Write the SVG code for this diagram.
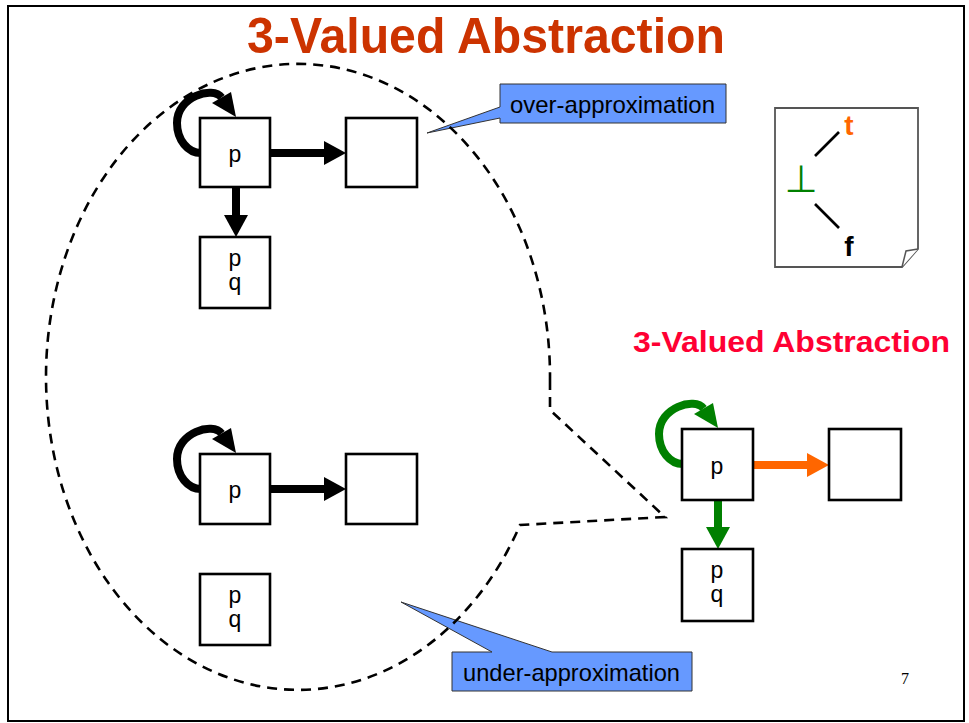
<svg xmlns="http://www.w3.org/2000/svg" xmlns:xlink="http://www.w3.org/1999/xlink" width="969" height="723" viewBox="0 0 969 723">
<style>
.box{fill:#fff;stroke:#000;stroke-width:2.6}
.lbl{font-family:"Liberation Sans",Arial,sans-serif;font-size:23px;text-anchor:middle;fill:#000}
.call{fill:#6699ff;stroke:#333;stroke-width:1}
.ctext{font-family:"Liberation Sans",Arial,sans-serif;font-size:24px;fill:#000}
.dash{fill:none;stroke:#000;stroke-width:2.6;stroke-dasharray:10 7}
.lat{stroke:#000;stroke-width:2.6}
</style>
<defs>
<g id="loop">
<path d="M1 35 C-12 35,-23 22,-23 5 C-23 -22,13 -32,21.5 -20.5" fill="none" stroke="currentColor" stroke-width="8"/>
<polygon points="31,-26 36,-1 12,-15" fill="currentColor"/>
</g>
<marker id="ahK" markerUnits="userSpaceOnUse" markerWidth="22" markerHeight="24" refX="0" refY="12" orient="auto" overflow="visible">
<path d="M0 0 L22 12 L0 24 Z" fill="#000"/>
</marker>
<marker id="ahG" markerUnits="userSpaceOnUse" markerWidth="22" markerHeight="24" refX="0" refY="12" orient="auto" overflow="visible">
<path d="M0 0 L22 12 L0 24 Z" fill="#008000"/>
</marker>
<marker id="ahO" markerUnits="userSpaceOnUse" markerWidth="22" markerHeight="24" refX="0" refY="12" orient="auto" overflow="visible">
<path d="M0 0 L22 12 L0 24 Z" fill="#ff6600"/>
</marker>
</defs>
<rect x="8" y="6" width="956" height="715" fill="#fff" stroke="#000" stroke-width="2"/>
<text x="486" y="53" font-family="'Liberation Sans',Arial,sans-serif" font-weight="bold" font-size="50" fill="#cc3300" text-anchor="middle" textLength="478" lengthAdjust="spacingAndGlyphs">3-Valued Abstraction</text>
<text x="633" y="352" font-family="'Liberation Sans',Arial,sans-serif" font-weight="bold" font-size="30" fill="#ff0033" textLength="317" lengthAdjust="spacingAndGlyphs">3-Valued Abstraction</text>
<g id="callout-over">
<path class="call" d="M500 84 H726 V123 H500 V118 L427 133 L500 107 Z"/>
<text class="ctext" x="510" y="113" textLength="205" lengthAdjust="spacingAndGlyphs">over-approximation</text>
</g>
<g id="callout-under">
<path class="call" d="M452 652 H492 L401 602 L552 652 H692 V691 H452 Z"/>
<text class="ctext" x="463" y="681" textLength="217" lengthAdjust="spacingAndGlyphs">under-approximation</text>
</g>
<path id="summary-region" class="dash" d="M550 380 L550 410 L665 517 L520 525 A252 313 0 1 1 550 380"/>
<g id="lattice">
<path d="M775 108 H918 V249 L902 267 H775 Z" fill="#fff" stroke="#555" stroke-width="1.8"/>
<path d="M918 249 L906 251 L902 267" fill="#fff" stroke="#555" stroke-width="1.5"/>
<text x="849" y="135" font-family="'Liberation Sans',Arial,sans-serif" font-weight="bold" font-size="28" fill="#ff6600" text-anchor="middle">t</text>
<text x="849" y="256" font-family="'Liberation Sans',Arial,sans-serif" font-weight="bold" font-size="28" fill="#000" text-anchor="middle">f</text>
<text x="801" y="192" font-family="'DejaVu Sans',sans-serif" font-size="38" fill="#008000" text-anchor="middle">⊥</text>
<line class="lat" x1="815" y1="156" x2="839" y2="132"/>
<line class="lat" x1="815" y1="204" x2="839" y2="228"/>
</g>
<g id="connectors">
<use xlink:href="#loop" transform="translate(200,118)" style="color:#000"/>
<use xlink:href="#loop" transform="translate(200,454)" style="color:#000"/>
<use xlink:href="#loop" transform="translate(682,429)" style="color:#008000"/>
<line x1="270" y1="153" x2="324" y2="153" stroke="#000" stroke-width="8" marker-end="url(#ahK)"/>
<line x1="236" y1="187" x2="236" y2="215" stroke="#000" stroke-width="8" marker-end="url(#ahK)"/>
<line x1="270" y1="489" x2="324" y2="489" stroke="#000" stroke-width="8" marker-end="url(#ahK)"/>
<line x1="754" y1="465" x2="807" y2="465" stroke="#ff6600" stroke-width="8" marker-end="url(#ahO)"/>
<line x1="718" y1="500" x2="718" y2="527" stroke="#008000" stroke-width="8" marker-end="url(#ahG)"/>
</g>
<g id="nA"><rect class="box" x="200" y="118" width="70" height="69"/><text class="lbl" x="235" y="162">p</text></g>
<g id="nB"><rect class="box" x="346" y="118" width="71" height="69"/></g>
<g id="nC"><rect class="box" x="200" y="237" width="70" height="71"/><text class="lbl" x="235" y="266">p</text><text class="lbl" x="235" y="290">q</text></g>
<g id="nD"><rect class="box" x="200" y="454" width="70" height="70"/><text class="lbl" x="235" y="498">p</text></g>
<g id="nE"><rect class="box" x="346" y="454" width="71" height="70"/></g>
<g id="nF"><rect class="box" x="200" y="574" width="70" height="71"/><text class="lbl" x="235" y="603">p</text><text class="lbl" x="235" y="627">q</text></g>
<g id="nG"><rect class="box" x="682" y="429" width="71" height="71"/><text class="lbl" x="717" y="474">p</text></g>
<g id="nH"><rect class="box" x="829" y="429" width="72" height="71"/></g>
<g id="nI"><rect class="box" x="682" y="549" width="71" height="72"/><text class="lbl" x="717" y="578">p</text><text class="lbl" x="717" y="602">q</text></g>
<text x="905" y="684" font-family="'Liberation Serif','Times New Roman',serif" font-size="16" text-anchor="middle" fill="#000">7</text>
</svg>
